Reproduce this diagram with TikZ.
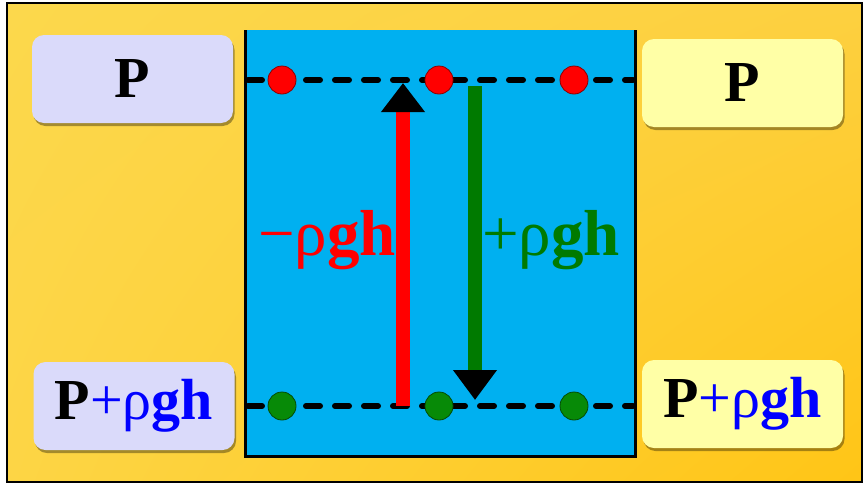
\documentclass[tikz,border=0pt]{standalone}
\usepackage{fontspec}
\setmainfont{Liberation Serif}
\usetikzlibrary{arrows.meta,positioning,shadows,shadings}
\definecolor{TankBlue}{HTML}{00B0F0}
\definecolor{BoxLilac}{HTML}{DADAFA}
\definecolor{BoxCream}{HTML}{FFFFA6}
\definecolor{DotGreen}{HTML}{078A07}
\definecolor{RiseRed}{HTML}{FF0000}
\definecolor{FallGreen}{HTML}{007A00}
\definecolor{BgTopLeft}{HTML}{FCD84C}
\definecolor{BgTopRight}{HTML}{FDD040}
\definecolor{BgBotLeft}{HTML}{FDD545}
\definecolor{BgBotRight}{HTML}{FFC516}
\tikzset{
  levelbox/.style={rounded corners=12pt, minimum width=201pt, minimum height=88pt,
    inner sep=0pt, font=\fontsize{58}{62}\selectfont,
    drop shadow={shadow xshift=1.5pt, shadow yshift=-3pt, opacity=0.35, fill=black}},
  leftbox/.style={levelbox, fill=BoxLilac},
  rightbox/.style={levelbox, fill=BoxCream},
  reddot/.style={circle, minimum size=28pt, inner sep=0pt, fill=red,
    draw=red!55!black, line width=0.8pt},
  greendot/.style={circle, minimum size=28pt, inner sep=0pt, fill=DotGreen,
    draw=DotGreen!55!black, line width=0.8pt},
  levelline/.style={line width=6pt, line cap=round, dash pattern=on 14pt off 15pt},
  tankwall/.style={line width=3pt},
  risewire/.style={line width=14pt, draw=RiseRed,
    -{Triangle[length=29pt, width=42pt, color=black]}},
  fallwire/.style={line width=14pt, draw=FallGreen,
    -{Triangle[length=30pt, width=42pt, color=black]}},
  riselabel/.style={inner sep=0pt, font=\fontsize{65}{70}\selectfont}
}
\newcommand{\rgh}{ρ\textbf{gh}}

\begin{document}
\begin{tikzpicture}[x=1pt, y=-1pt]
  \useasboundingbox (0,0) rectangle (867,485);
  % background and frame
  \shade[upper left=BgTopLeft, upper right=BgTopRight, lower left=BgBotLeft,
    lower right=BgBotRight] (7,3) rectangle (862,482);
  \draw[line width=2pt] (7,3) rectangle (862,482);
  % tank
  \fill[TankBlue] (245,30) rectangle (635,456);
  \draw[tankwall] (245,30) -- (245,456) -- (635,456) -- (635,30);
  % levels
  \coordinate (topL) at (248,80);
  \coordinate (topR) at (633,80);
  \coordinate (botL) at (248,406);
  \coordinate (botR) at (633,406);
  \draw[levelline] (topL) -- (topR);
  \draw[levelline] (botL) -- (botR);
  % arrows
  \coordinate (risefoot) at (403,406);
  \coordinate (risetip) at (403,83);
  \coordinate (fallhead) at (475,86);
  \coordinate (falltip) at (475,400);
  \draw[risewire] (risefoot) -- (risetip);
  \draw[fallwire] (fallhead) -- (falltip);
  \coordinate (risemid) at (396,240);
  \coordinate (fallmid) at (482,240);
  \node[riselabel, text=RiseRed, left=0pt of risemid] (riselbl) {−\rgh};
  \node[riselabel, text=FallGreen, right=0pt of fallmid] (falllbl) {+\rgh};
  % particles
  \foreach \x [count=\i] in {282,439,574} {
    \node[reddot] (up\i) at (\x,80) {};
    \node[greendot] (down\i) at (\x,406) {};
  }
  % pressure boxes
  \node[leftbox] (ptopL) at (132.5,79) {\textbf{P}};
  \node[leftbox] (pbotL) at (134,406) {\textbf{P}\textcolor{blue}{+\rgh}};
  \node[rightbox] (ptopR) at (742.5,83) {\textbf{P}};
  \node[rightbox] (pbotR) at (742.5,404) {\textbf{P}\textcolor{blue}{+\rgh}};
\end{tikzpicture}
\end{document}
